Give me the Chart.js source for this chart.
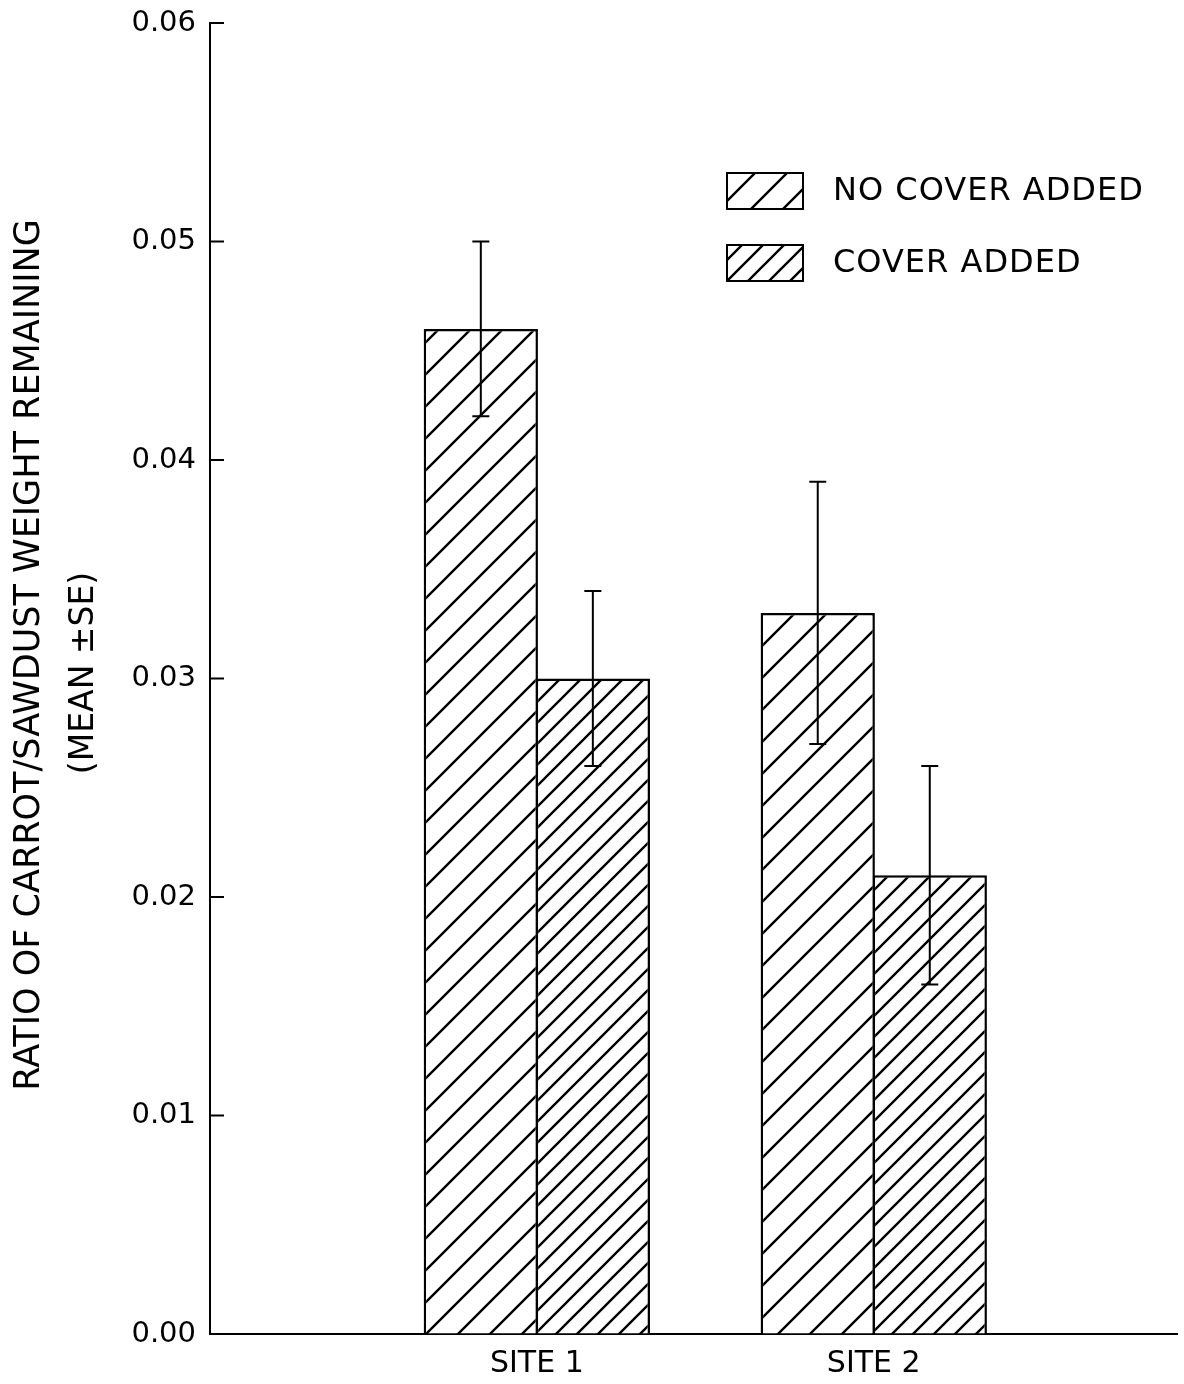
<!DOCTYPE html>
<html>
<head>
    <title>Carrot/Sawdust Weight Remaining</title>
    <script src="https://cdn.jsdelivr.net/npm/chart.js@4/dist/chart.umd.min.js"></script>
    <style>
        body {
            margin: 0;
            background-color: white;
        }
        #chartBox {
            width: 1184px;
            height: 1384px;
        }
    </style>
</head>
<body>
    <div id="chartBox">
        <canvas id="chart" width="1184" height="1384"></canvas>
    </div>

    <script>
        // categories and series
        const siteLabels = ['SITE 1', 'SITE 2'];
        const seriesNames = ['NO COVER ADDED', 'COVER ADDED'];

        // mean values and the +/- SE ends
        const noCoverMean = [0.046, 0.033];
        const noCoverLow = [0.042, 0.027];
        const noCoverHigh = [0.050, 0.039];
        const coverMean = [0.030, 0.021];
        const coverLow = [0.026, 0.016];
        const coverHigh = [0.034, 0.026];

        // y axis range
        const yMin = 0;
        const yMax = 0.06;
        const yStep = 0.01;

        const yTitle = 'RATIO OF CARROT/SAWDUST WEIGHT REMAINING';
        const ySubTitle = '(MEAN \u00b1SE)';

        const FONT = "'DejaVu Sans', sans-serif";

        function hatch(spacing) {
            const c = document.createElement('canvas');
            c.width = spacing;
            c.height = spacing;
            const g = c.getContext('2d');
            g.fillStyle = 'white';
            g.fillRect(0, 0, spacing, spacing);
            g.strokeStyle = 'black';
            g.lineWidth = 2.4;
            g.beginPath();
            g.moveTo(0, spacing);
            g.lineTo(spacing, 0);
            g.moveTo(-spacing / 2, spacing / 2);
            g.lineTo(spacing / 2, -spacing / 2);
            g.moveTo(spacing / 2, spacing * 1.5);
            g.lineTo(spacing * 1.5, spacing / 2);
            g.stroke();
            return g.createPattern(c, 'repeat');
        }

        const noCoverFill = hatch(32);
        const coverFill = hatch(21);

        // error bars: vertical line through the bar, short caps at both ends
        const errorBars = {
            id: 'errorBars',
            afterDatasetsDraw(chart) {
                const ctx = chart.ctx;
                const y = chart.scales.y;
                ctx.save();
                ctx.strokeStyle = 'black';
                ctx.lineWidth = 2;
                chart.data.datasets.forEach((ds, di) => {
                    const meta = chart.getDatasetMeta(di);
                    meta.data.forEach((bar, i) => {
                        const lo = y.getPixelForValue(ds.errLow[i]);
                        const hi = y.getPixelForValue(ds.errHigh[i]);
                        ctx.beginPath();
                        ctx.moveTo(bar.x, lo);
                        ctx.lineTo(bar.x, hi);
                        ctx.moveTo(bar.x - 8.5, lo);
                        ctx.lineTo(bar.x + 8.5, lo);
                        ctx.moveTo(bar.x - 8.5, hi);
                        ctx.lineTo(bar.x + 8.5, hi);
                        ctx.stroke();
                    });
                });
                ctx.restore();
            }
        };

        // inward tick marks, rotated axis title, boxed legend
        const decorations = {
            id: 'decorations',
            afterDraw(chart) {
                const ctx = chart.ctx;
                const y = chart.scales.y;
                const area = chart.chartArea;
                ctx.save();
                ctx.strokeStyle = 'black';
                ctx.lineWidth = 2;
                y.ticks.forEach(t => {
                    const py = y.getPixelForValue(t.value);
                    ctx.beginPath();
                    ctx.moveTo(area.left, py);
                    ctx.lineTo(area.left + 14, py);
                    ctx.stroke();
                });

                ctx.fillStyle = 'black';
                ctx.textAlign = 'center';
                ctx.textBaseline = 'middle';
                ctx.save();
                ctx.translate(30, 655);
                ctx.rotate(-Math.PI / 2);
                ctx.font = '35px ' + FONT;
                ctx.fillText(yTitle, 0, 0);
                ctx.restore();
                ctx.save();
                ctx.translate(84, 673);
                ctx.rotate(-Math.PI / 2);
                ctx.font = '33px ' + FONT;
                ctx.fillText(ySubTitle, 0, 0);
                ctx.restore();

                ctx.textAlign = 'left';
                ctx.font = '32px ' + FONT;
                ctx.letterSpacing = '1px';
                chart.data.datasets.forEach((ds, i) => {
                    const top = 173 + i * 72;
                    ctx.fillStyle = ds.backgroundColor;
                    ctx.fillRect(727, top, 76, 36);
                    ctx.strokeRect(727, top, 76, 36);
                    ctx.fillStyle = 'black';
                    ctx.fillText(ds.label, 833, top + 19);
                });
                ctx.restore();
            }
        };

        new Chart(document.getElementById('chart'), {
            type: 'bar',
            data: {
                datasets: [{
                    label: seriesNames[0],
                    data: noCoverMean.map((v, i) => ({ x: i + 1, y: v })),
                    errLow: noCoverLow,
                    errHigh: noCoverHigh,
                    backgroundColor: noCoverFill,
                    borderColor: 'black',
                    borderWidth: 2.5
                }, {
                    label: seriesNames[1],
                    data: coverMean.map((v, i) => ({ x: i + 1, y: v })),
                    errLow: coverLow,
                    errHigh: coverHigh,
                    backgroundColor: coverFill,
                    borderColor: 'black',
                    borderWidth: 2.5
                }]
            },
            options: {
                responsive: false,
                animation: false,
                categoryPercentage: 0.665,
                barPercentage: 1.02,
                layout: {
                    padding: { top: 23, right: 7, left: 0, bottom: 0 }
                },
                scales: {
                    x: {
                        type: 'linear',
                        min: 0.03,
                        max: 2.9,
                        offset: false,
                        afterBuildTicks: scale => {
                            scale.ticks = siteLabels.map((_, i) => ({ value: i + 1 }));
                        },
                        afterFit: scale => {
                            scale.height = 50;
                            scale.paddingLeft = 0;
                            scale.paddingRight = 0;
                        },
                        ticks: {
                            callback: v => siteLabels[v - 1] || '',
                            color: 'black',
                            font: { family: FONT, size: 30 },
                            padding: 12,
                            maxRotation: 0
                        },
                        grid: { drawOnChartArea: false, drawTicks: false },
                        border: { display: true, color: 'black', width: 2 }
                    },
                    y: {
                        min: yMin,
                        max: yMax,
                        afterFit: scale => {
                            scale.width = 210;
                            scale.paddingTop = 0;
                            scale.paddingBottom = 0;
                        },
                        ticks: {
                            stepSize: yStep,
                            callback: v => v.toFixed(2),
                            color: 'black',
                            font: { family: FONT, size: 29 },
                            padding: 14
                        },
                        grid: { drawOnChartArea: false, drawTicks: false },
                        border: { display: true, color: 'black', width: 2 }
                    }
                },
                plugins: {
                    legend: { display: false },
                    tooltip: { enabled: false }
                }
            },
            plugins: [errorBars, decorations]
        });
    </script>
</body>
</html>
